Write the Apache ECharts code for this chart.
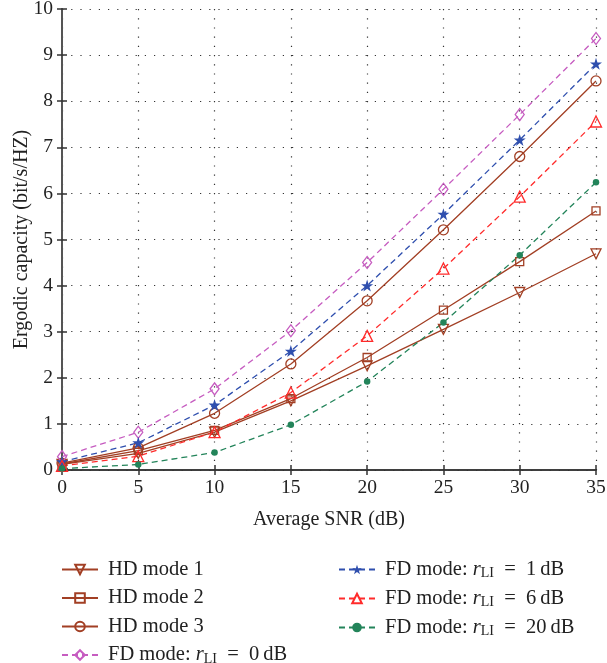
<!DOCTYPE html>
<html>
<head>
<meta charset="utf-8">
<script src="https://cdn.jsdelivr.net/npm/echarts@6/dist/echarts.min.js"></script>
<style>html,body{margin:0;padding:0;background:#fff;}#c{width:607px;height:663px;}</style>
</head>
<body>
<div id="c"></div>
<script>
var snr = [0, 5, 10, 15, 20, 25, 30, 35];
var hd1 = [0.12, 0.36, 0.82, 1.50, 2.26, 3.05, 3.85, 4.69];
var hd2 = [0.13, 0.42, 0.86, 1.55, 2.44, 3.47, 4.52, 5.62];
var hd3 = [0.15, 0.48, 1.23, 2.30, 3.67, 5.21, 6.80, 8.44];
var fd0 = [0.29, 0.82, 1.76, 3.02, 4.50, 6.09, 7.71, 9.36];
var fd1 = [0.18, 0.59, 1.41, 2.58, 4.00, 5.55, 7.16, 8.81];
var fd6 = [0.09, 0.30, 0.82, 1.68, 2.91, 4.37, 5.93, 7.56];
var fd20 = [0.03, 0.12, 0.38, 0.98, 1.92, 3.20, 4.66, 6.24];
var xTicks = [0, 5, 10, 15, 20, 25, 30, 35];
var yTicks = [0, 1, 2, 3, 4, 5, 6, 7, 8, 9, 10];

var FONT = 'Liberation Serif';
var BROWN = '#a23f24', MAG = '#c65cc0', BLUE = '#2f4fae', RED = '#ff2b2b', GREEN = '#23845a';
var STAR = 'path://M50,0 L61.8,35.4 L99,35.4 L69,57.3 L80.4,93 L50,71 L19.6,93 L31,57.3 L1,35.4 L38.2,35.4 Z';

function pts(arr) { return snr.map(function (x, i) { return [x, arr[i]]; }); }
function mk(name, arr, color, dashed, symbol, size, filled, rot) {
  return {
    name: name, type: 'line', data: pts(arr), xAxisIndex: 0, yAxisIndex: 0,
    symbol: symbol, symbolSize: size, symbolRotate: rot || 0, showSymbol: true,
    lineStyle: { color: color, width: 1.3, type: dashed ? [6, 4] : 'solid' },
    itemStyle: { color: filled ? color : 'rgba(255,255,255,0)', borderColor: color, borderWidth: filled ? 0 : 1.3 },
    emphasis: { disabled: true }, animation: false, z: 3
  };
}
var series = [
  mk('HD mode 1', hd1, BROWN, false, 'triangle', 10, false, 180),
  mk('HD mode 2', hd2, BROWN, false, 'rect', 8, false),
  mk('HD mode 3', hd3, BROWN, false, 'circle', 10, false),
  mk('FD0', fd0, MAG, true, 'diamond', [9, 12], false),
  mk('FD1', fd1, BLUE, true, STAR, 12, true),
  mk('FD6', fd6, RED, true, 'triangle', 11, false),
  mk('FD20', fd20, GREEN, true, 'circle', 6.5, true)
];
var fdLabel = { FD0: '0', FD1: '1', FD6: '6', FD20: '20' };
function fmt(name) {
  if (fdLabel[name] !== undefined) {
    return '{a|FD mode: }{i|r}{s|LI}{a|  =  ' + fdLabel[name] + '\u2009dB}';
  }
  return '{a|' + name + '}';
}
var LF = 20.5;
var rich = {
  a: { fontFamily: FONT, fontSize: LF, color: '#222', lineHeight: 22 },
  i: { fontFamily: FONT, fontSize: LF, fontStyle: 'italic', color: '#222', lineHeight: 22 },
  s: { fontFamily: FONT, fontSize: 14, color: '#222', lineHeight: 10, verticalAlign: 'bottom' }
};
function legend(left, data) {
  return {
    orient: 'vertical', left: left, top: 559, height: 110, padding: 0,
    itemWidth: 36, itemHeight: 12, itemGap: 7.5,
    data: data, formatter: fmt, selectedMode: false,
    textStyle: { fontFamily: FONT, fontSize: LF, color: '#222', padding: [0, 0, 0, 5], rich: rich }
  };
}
var axisLine = { show: true, lineStyle: { color: '#333', width: 1.5 } };
var tick = { show: true, inside: true, length: 5, lineStyle: { color: '#333', width: 1.5 } };
var split = { show: true, lineStyle: { color: '#333', width: 1.2, type: [1.2, 8] } };
var chart = echarts.init(document.getElementById('c'));
chart.setOption({
  backgroundColor: '#fff',
  animation: false,
  grid: { left: 62, right: 11, top: 9, bottom: 193, containLabel: false, outerBoundsMode: 'none' },
  xAxis: [{
    type: 'value', min: 0, max: 35, interval: 5, position: 'bottom',
    axisLine: axisLine, axisTick: tick, splitLine: split,
    axisLabel: { fontFamily: FONT, fontSize: 19.5, color: '#222', margin: 8, formatter: function (v) { return xTicks.indexOf(v) >= 0 ? String(v) : ''; } },
    name: 'Average SNR (dB)', nameLocation: 'middle', nameGap: 40, nameMoveOverlap: false,
    nameTextStyle: { fontFamily: FONT, fontSize: 20, color: '#222' }
  }, {
    type: 'value', min: 0, max: 35, interval: 5, position: 'top',
    axisLine: axisLine, axisTick: tick, splitLine: { show: false }, axisLabel: { show: false }
  }],
  yAxis: [{
    type: 'value', min: 0, max: 10, interval: 1, position: 'left',
    axisLine: axisLine, axisTick: tick, splitLine: split,
    axisLabel: { fontFamily: FONT, fontSize: 19.5, color: '#222', margin: 9, formatter: function (v) { return yTicks.indexOf(v) >= 0 ? String(v) : ''; } },
    name: 'Ergodic capacity (bit/s/HZ)', nameLocation: 'middle', nameGap: 30, nameMoveOverlap: false,
    nameTextStyle: { fontFamily: FONT, fontSize: 20, color: '#222' }
  }, {
    type: 'value', min: 0, max: 10, interval: 1, position: 'right',
    axisLine: { show: true, lineStyle: { color: '#555', width: 2 } }, axisTick: tick, splitLine: { show: false }, axisLabel: { show: false }
  }],
  legend: [
    legend(61, ['HD mode 1', 'HD mode 2', 'HD mode 3', 'FD0']),
    legend(338, ['FD1', 'FD6', 'FD20'])
  ],
  series: series
});
</script>
</body>
</html>
